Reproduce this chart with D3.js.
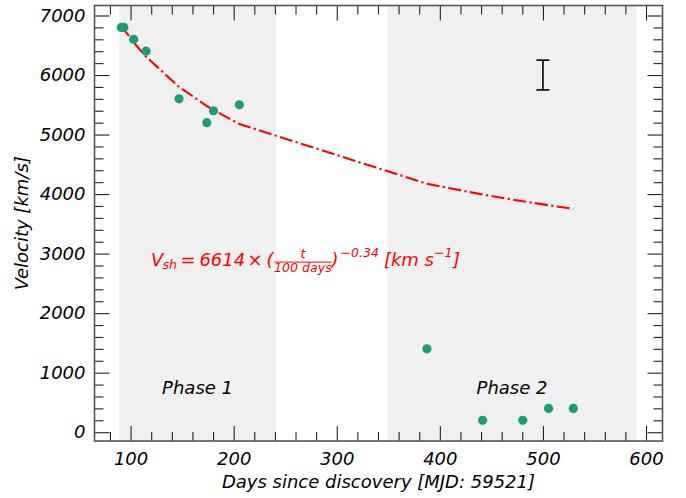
<!DOCTYPE html>
<html>
<head>
<meta charset="utf-8">
<script src="https://cdn.jsdelivr.net/npm/d3@7"></script>
<style>
  html, body { margin: 0; padding: 0; background: #fff; }
  svg { display: block; font-family: "DejaVu Sans", sans-serif; }
</style>
</head>
<body>
<svg id="chart" width="686" height="498"></svg>
<script>
// Observed shock velocities
const days = [91, 93.5, 103, 115, 147, 174, 180.5, 205.5, 387.5, 441.5, 480.5, 505.5, 529.5];
const velocity = [6800, 6800, 6600, 6400, 5600, 5200, 5400, 5500, 1400, 200, 200, 400, 400];

// Power-law fit: V = A * (t / t0)^k
const fitAmplitude = 6614;
const fitPivot = 100;
const fitIndex = -0.34;

// Typical uncertainty marker
const errDay = [500];
const errVelocity = [6000];
const errHalf = [250];

// Shaded phases
const phaseNames = ["Phase 1", "Phase 2"];
const phaseStart = [89, 349];
const phaseEnd = [241, 591];

// Axis ticks
const xMajorTicks = [100, 200, 300, 400, 500, 600];
const yMajorTicks = [0, 1000, 2000, 3000, 4000, 5000, 6000, 7000];

const svg = d3.select("#chart");
const L = 94.5, R = 662.5, T = 5.5, B = 441;
const x = d3.scaleLinear().domain([65, 616]).range([L, R]);
const y = d3.scaleLinear().domain([-148, 7168]).range([B, T]);

const FS = 18;
const SS = 12.6;
const green = "#1b9e77";

// phase shading
phaseNames.forEach((name, i) => {
  svg.append("rect")
    .attr("x", x(phaseStart[i])).attr("y", T)
    .attr("width", x(phaseEnd[i]) - x(phaseStart[i])).attr("height", B - T)
    .attr("fill", "#f0f0f0");
  svg.append("text")
    .attr("x", x((phaseStart[i] + phaseEnd[i]) / 2)).attr("y", y(640))
    .attr("text-anchor", "middle").attr("font-style", "italic")
    .attr("font-size", FS).attr("fill", "#000").text(name);
});

// fit curve evaluated at the observation epochs
const fitPts = days.map(d => [d, fitAmplitude * Math.pow(d / fitPivot, fitIndex)]);
svg.append("path")
  .datum(fitPts)
  .attr("d", d3.line().x(d => x(d[0])).y(d => y(d[1])))
  .attr("fill", "none").attr("stroke", "#ff0000").attr("stroke-width", 2.1)
  .attr("stroke-dasharray", "13,3.4,2.2,3.4");

// observed points
svg.append("g").selectAll("circle").data(days).join("circle")
  .attr("cx", d => x(d)).attr("cy", (d, i) => y(velocity[i]))
  .attr("r", 4.6).attr("fill", green);

// error bar
errDay.forEach((d, i) => {
  const g = svg.append("g").attr("stroke", "#000").attr("stroke-width", 1.6);
  const cx = x(d), y1 = y(errVelocity[i] + errHalf[i]), y0 = y(errVelocity[i] - errHalf[i]);
  g.append("line").attr("x1", cx).attr("x2", cx).attr("y1", y1).attr("y2", y0);
  g.append("line").attr("x1", cx - 6.5).attr("x2", cx + 6.5).attr("y1", y1).attr("y2", y1);
  g.append("line").attr("x1", cx - 6.5).attr("x2", cx + 6.5).attr("y1", y0).attr("y2", y0);
});

// axes with inward ticks on all four sides
const xMinor = d3.range(80, 616, 20).filter(v => v % 100 !== 0);
const yMinor = d3.range(200, 7168, 200).filter(v => v % 1000 !== 0);

function styleAxis(g) {
  g.select(".domain").remove();
  g.selectAll(".tick line").attr("stroke", "#222").attr("stroke-width", 1.1);
  g.selectAll("text").attr("font-size", FS).attr("font-style", "italic")
    .attr("fill", "#000").attr("font-family", "DejaVu Sans");
}

svg.append("g").attr("transform", `translate(0,${B})`)
  .call(d3.axisBottom(x).tickValues(xMajorTicks).tickSize(-15).tickPadding(11).tickFormat(d3.format("d")))
  .call(styleAxis);
svg.append("g").attr("transform", `translate(0,${B})`)
  .call(d3.axisBottom(x).tickValues(xMinor).tickSize(-9).tickFormat(""))
  .call(styleAxis);
svg.append("g").attr("transform", `translate(0,${T})`)
  .call(d3.axisTop(x).tickValues(xMajorTicks).tickSize(-15).tickFormat(""))
  .call(styleAxis);
svg.append("g").attr("transform", `translate(0,${T})`)
  .call(d3.axisTop(x).tickValues(xMinor).tickSize(-9).tickFormat(""))
  .call(styleAxis);

svg.append("g").attr("transform", `translate(${L},0)`)
  .call(d3.axisLeft(y).tickValues(yMajorTicks).tickSize(-15).tickPadding(9).tickFormat(d3.format("d")))
  .call(styleAxis);
svg.append("g").attr("transform", `translate(${L},0)`)
  .call(d3.axisLeft(y).tickValues(yMinor).tickSize(-9).tickFormat(""))
  .call(styleAxis);
svg.append("g").attr("transform", `translate(${R},0)`)
  .call(d3.axisRight(y).tickValues(yMajorTicks).tickSize(-15).tickFormat(""))
  .call(styleAxis);
svg.append("g").attr("transform", `translate(${R},0)`)
  .call(d3.axisRight(y).tickValues(yMinor).tickSize(-9).tickFormat(""))
  .call(styleAxis);

// frame
svg.append("rect").attr("x", L).attr("y", T).attr("width", R - L).attr("height", B - T)
  .attr("fill", "none").attr("stroke", "#555").attr("stroke-width", 1.6);

// axis titles
svg.append("text").attr("x", (L + R) / 2).attr("y", 488)
  .attr("text-anchor", "middle").attr("font-style", "italic").attr("font-size", FS)
  .text("Days since discovery [MJD: 59521]");
svg.append("text").attr("transform", `translate(28,${(T + B) / 2}) rotate(-90)`)
  .attr("text-anchor", "middle").attr("font-style", "italic").attr("font-size", FS)
  .text("Velocity [km/s]");

// fit formula
const fx = x(121) - 1.3, fy = y(2795);
const eq = svg.append("g").attr("fill", "#ff0000").attr("font-style", "italic");
function put(str, dx, dy, size, anchor) {
  return eq.append("text").attr("x", fx + dx).attr("y", fy + dy).attr("font-size", size)
    .attr("text-anchor", anchor || "start").text(str);
}
put("V", 0, 0, FS);
put("sh", 11.5, 3.5, SS);
put("=", 29.5, 0, FS).attr("font-style", "normal");
put("6614", 48.5, 0, FS);
put("\u00d7", 104, 0, FS, "middle").attr("font-style", "normal");
put("(", 115.5, 0, FS);
put("t", 152, -7.7, SS, "middle");
eq.append("line").attr("x1", fx + 123.3).attr("x2", fx + 180.7)
  .attr("y1", fy - 3.7).attr("y2", fy - 3.7).attr("stroke", "#ff0000").attr("stroke-width", 1);
put("100 days", 152, 6.3, SS, "middle");
put(")", 180.5, 0, FS);
put("\u22120.34", 189.5, -9.3, SS);
put("[km s", 233, 0, FS);
put("\u22121", 283, -9.3, SS);
put("]", 302, 0, FS);
</script>
</body>
</html>
